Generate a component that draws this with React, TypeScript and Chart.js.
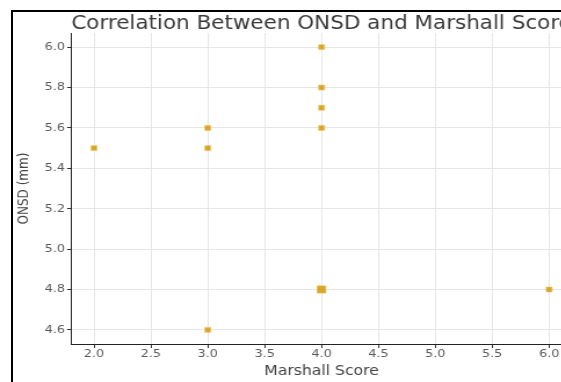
import React, { useEffect, useRef } from "react";
import { Chart, registerables } from "chart.js";

Chart.register(...registerables);

const TITLE = "Correlation Between ONSD and Marshall Score";
const X_LABEL = "Marshall Score";
const Y_LABEL = "ONSD (mm)";

const marshallScores = [2, 3, 3, 3, 4, 4, 4, 4, 4, 4, 6];
const onsdValues = [5.5, 5.6, 5.5, 4.6, 6.0, 5.8, 5.7, 5.6, 4.8, 4.8, 4.8];

const xTicks = [2.0, 2.5, 3.0, 3.5, 4.0, 4.5, 5.0, 5.5, 6.0];
const yTicks = [4.6, 4.8, 5.0, 5.2, 5.4, 5.6, 5.8, 6.0];

const SX = 1.16;
const CW = 503;
const CH = 382;
const FONT = "'DejaVu Sans', sans-serif";

export default function App() {
  const ref = useRef<HTMLCanvasElement | null>(null);

  useEffect(() => {
    if (!ref.current) return;
    const points = marshallScores.map((x, i) => ({ x, y: onsdValues[i] }));
    const radii = points.map((p) => {
      const n = points.filter((q) => q.x === p.x && q.y === p.y).length;
      return n > 1 ? 5 : 3.5;
    });
    const chart = new Chart(ref.current, {
      type: "scatter",
      data: {
        datasets: [
          {
            data: points,
            backgroundColor: "#dba628",
            borderColor: "#e8c060",
            borderWidth: 0.6,
            pointStyle: "rect",
            pointRadius: radii,
          },
        ],
      },
      options: {
        animation: false,
        responsive: false,
        devicePixelRatio: 1,
        layout: { padding: { left: 0, right: 10, top: 0, bottom: 0 } },
        plugins: {
          legend: { display: false },
          tooltip: { enabled: false },
          title: {
            display: true,
            text: TITLE,
            fullSize: false,
            color: "#3a3a3a",
            font: { family: FONT, size: 19, weight: "normal", lineHeight: 1 },
            padding: { top: 14.5, bottom: -0.5 },
          },
        },
        scales: {
          x: {
            type: "linear",
            position: "bottom",
            min: 1.8,
            max: 6.2,
            afterBuildTicks: (s: any) => {
              s.ticks = xTicks.map((v) => ({ value: v }));
            },
            afterFit: (s: any) => {
              s.height = 38;
            },
            ticks: {
              callback: (v: any) => Number(v).toFixed(1),
              color: "#5a5a5a",
              font: { family: FONT, size: 11 },
              padding: 0,
              maxRotation: 0,
              autoSkip: false,
            },
            grid: { color: "#e6e6e6", lineWidth: 1, tickLength: 4, tickColor: "#333" },
            border: { display: true, color: "#222", width: 1 },
            title: {
              display: true,
              text: X_LABEL,
              color: "#444",
              font: { family: FONT, size: 13.5 },
              padding: { top: 0, bottom: 2 },
            },
          },
          y: {
            type: "linear",
            min: 4.53,
            max: 6.07,
            afterBuildTicks: (s: any) => {
              s.ticks = yTicks.map((v) => ({ value: v }));
            },
            afterFit: (s: any) => {
              s.width = 61.4;
            },
            ticks: {
              callback: (v: any) => Number(v).toFixed(1),
              color: "#5a5a5a",
              font: { family: FONT, size: 11 },
              padding: 2,
              autoSkip: false,
            },
            grid: { color: "#e6e6e6", lineWidth: 1, tickLength: 3.5, tickColor: "#333" },
            border: { display: true, color: "#222", width: 1 },
            title: {
              display: true,
              text: Y_LABEL,
              color: "#444",
              font: { family: FONT, size: 12 },
              padding: { top: 13.7, bottom: 0 },
            },
          },
        },
      },
    });
    return () => chart.destroy();
  }, []);

  return (
    <div
      style={{
        position: "fixed",
        left: 0,
        top: 0,
        width: 561,
        height: 382,
        overflow: "hidden",
        background: "#fff",
      }}
    >
      <canvas
        ref={ref}
        width={CW}
        height={CH}
        style={{
          position: "absolute",
          left: 0,
          top: 0,
          transform: `scaleX(${SX})`,
          transformOrigin: "0 0",
        }}
      />
      <div
        style={{
          position: "absolute",
          left: 11,
          top: 10,
          width: 600,
          height: 400,
          borderLeft: "2px solid #000",
          borderTop: "2px solid #000",
          pointerEvents: "none",
        }}
      />
    </div>
  );
}
